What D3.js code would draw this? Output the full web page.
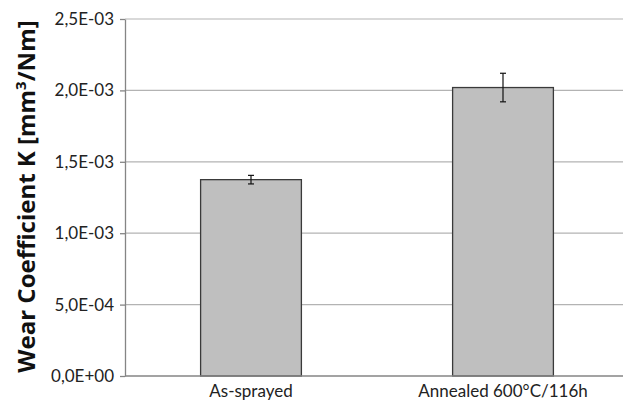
<!DOCTYPE html>
<html>
<head>
<meta charset="utf-8">
<script src="https://cdn.jsdelivr.net/npm/d3@7"></script>
<style>
  html, body { margin: 0; padding: 0; background: #fff; }
  svg { display: block; }
</style>
</head>
<body>
<div id="chart"></div>
<script>
// Wear coefficient per sample condition, with standard deviation
const categories = ["As-sprayed", "Annealed 600°C/116h"];
const wearValues = [1.375e-3, 2.02e-3];
const wearErrors = [0.03e-3, 0.10e-3];
const yTicks = [0, 0.5e-3, 1.0e-3, 1.5e-3, 2.0e-3, 2.5e-3];
const yTickLabels = ["0,0E+00", "5,0E-04", "1,0E-03", "1,5E-03", "2,0E-03", "2,5E-03"];

const width = 623, height = 402;
const margin = { top: 19, right: -6, bottom: 26, left: 125 };
const labelFont = "Lato, 'Open Sans', sans-serif";

const svg = d3.select("#chart").append("svg")
  .attr("width", width).attr("height", height);

const x = d3.scaleBand()
  .domain(categories)
  .range([margin.left, width - margin.right])
  .paddingInner(0.6).paddingOuter(0.3);

const y = d3.scaleLinear()
  .domain([0, 2.5e-3])
  .range([height - margin.bottom, margin.top]);

// horizontal gridlines
svg.append("g")
  .selectAll("line")
  .data(yTicks.slice(1))
  .join("line")
  .attr("x1", margin.left).attr("x2", width)
  .attr("y1", d => y(d)).attr("y2", d => y(d))
  .attr("stroke", "#b3b3b3").attr("stroke-width", 1.2);

// bars
svg.append("g")
  .selectAll("rect")
  .data(categories)
  .join("rect")
  .attr("x", d => x(d))
  .attr("y", (d, i) => y(wearValues[i]))
  .attr("width", x.bandwidth())
  .attr("height", (d, i) => y(0) - y(wearValues[i]))
  .attr("fill", "#bfbfbf")
  .attr("stroke", "#3a3a3a").attr("stroke-width", 1.3);

// error bars
const err = svg.append("g").attr("stroke", "#111").attr("stroke-width", 1.2);
categories.forEach((c, i) => {
  const cx = x(c) + x.bandwidth() / 2;
  const hi = y(wearValues[i] + wearErrors[i]);
  const lo = y(wearValues[i] - wearErrors[i]);
  err.append("line").attr("x1", cx).attr("x2", cx).attr("y1", hi).attr("y2", lo);
  err.append("line").attr("x1", cx - 3).attr("x2", cx + 3).attr("y1", hi).attr("y2", hi);
  err.append("line").attr("x1", cx - 3).attr("x2", cx + 3).attr("y1", lo).attr("y2", lo);
});

// y axis
const yAxis = d3.axisLeft(y)
  .tickValues(yTicks)
  .tickFormat((d, i) => yTickLabels[i])
  .tickSizeInner(5).tickSizeOuter(0).tickPadding(6);

const gy = svg.append("g")
  .attr("transform", `translate(${margin.left},0)`)
  .call(yAxis);
gy.select(".domain").attr("stroke", "#858585").attr("stroke-width", 1.3);
gy.selectAll(".tick line").attr("stroke", "#858585").attr("stroke-width", 1.3);
gy.selectAll(".tick text")
  .attr("font-family", labelFont)
  .attr("font-size", 17)
  .attr("fill", "#222");

// x axis baseline and category labels
const xAxis = d3.axisBottom(x).tickSize(0).tickPadding(9);
const gx = svg.append("g")
  .attr("transform", `translate(0,${y(0)})`)
  .call(xAxis);
gx.select(".domain").attr("stroke", "#858585").attr("stroke-width", 1.3)
  .attr("d", `M${margin.left},0H${width}`);
gx.selectAll(".tick text")
  .attr("font-family", labelFont)
  .attr("font-size", 17)
  .attr("fill", "#222");

// y axis title
const title = svg.append("text")
  .attr("transform", `translate(35,${(margin.top + y(0)) / 2 - 1}) rotate(-90)`)
  .attr("text-anchor", "middle")
  .attr("font-family", "'Open Sans', sans-serif")
  .attr("font-weight", "bold")
  .attr("font-size", 24)
  .attr("fill", "#111");
title.append("tspan").text("Wear Coefficient K [mm");
title.append("tspan").attr("dy", -9).attr("font-size", 15).text("3");
title.append("tspan").attr("dy", 9).text("/Nm]");
</script>
</body>
</html>
